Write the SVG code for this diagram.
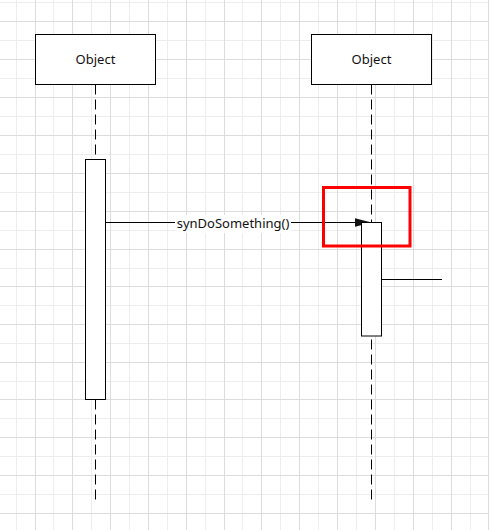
<svg xmlns="http://www.w3.org/2000/svg" width="489" height="530" viewBox="0 0 489 530">
<defs>
<style>
.minor{stroke:#ededed;stroke-width:1;fill:none}
.major{stroke:#dcdcdc;stroke-width:1;fill:none}
.box{fill:#fff;stroke:#000;stroke-width:1}
.life{stroke:#000;stroke-width:1;stroke-dasharray:10 5;fill:none}
.line{stroke:#000;stroke-width:1;fill:none}
.lbl{font-family:"Noto Sans","DejaVu Sans",sans-serif;font-size:13px;fill:#111;text-anchor:middle}
</style>
<marker id="arrow" markerWidth="17" markerHeight="12" refX="17" refY="6" orient="auto" markerUnits="userSpaceOnUse">
<path d="M0,1.5 L17,6 L0,10.5 Z" fill="#111"/>
</marker>
</defs>
<rect width="489" height="530" fill="#fff"/>
<g id="grid">
<path class="minor" d="M16.5,0V530M53.5,0V530M91.5,0V530M129.5,0V530M167.5,0V530M205.5,0V530M242.5,0V530M280.5,0V530M318.5,0V530M356.5,0V530M394.5,0V530M432.5,0V530M470.5,0V530M0,2.5H489M0,40.5H489M0,78.5H489M0,116.5H489M0,154.5H489M0,192.5H489M0,230.5H489M0,268.5H489M0,305.5H489M0,343.5H489M0,381.5H489M0,418.5H489M0,456.5H489M0,494.5H489"/>
<path class="major" d="M35.5,0V530M72.5,0V530M110.5,0V530M148.5,0V530M186.5,0V530M224.5,0V530M261.5,0V530M299.5,0V530M337.5,0V530M375.5,0V530M413.5,0V530M451.5,0V530M488.5,0V530M0,21.5H489M0,59.5H489M0,97.5H489M0,135.5H489M0,173.5H489M0,211.5H489M0,249.5H489M0,286.5H489M0,324.5H489M0,362.5H489M0,399.5H489M0,437.5H489M0,475.5H489M0,513.5H489"/>
</g>
<g id="connectors">
<path class="life" d="M95.5,84.5V502"/>
<path class="life" d="M371.5,84.5V502"/>
<path class="line" d="M105.5,222.5H371.5" marker-end="url(#arrow)"/>
<path class="line" d="M381.5,279.5H442"/>
</g>
<g id="object1">
<rect class="box" x="35.5" y="34.5" width="120" height="50"/>
<text class="lbl" x="95.5" y="64">Object</text>
</g>
<g id="object2">
<rect class="box" x="311.5" y="34.5" width="120" height="50"/>
<text class="lbl" x="371.5" y="64">Object</text>
</g>
<g id="activation1">
<rect class="box" x="85.5" y="159.5" width="20" height="240"/>
</g>
<g id="activation2">
<rect class="box" x="361.5" y="222.5" width="20" height="113.5"/>
</g>
<g id="message-label">
<rect x="175" y="215" width="116" height="18" fill="#fff"/>
<text class="lbl" x="233" y="228">synDoSomething()</text>
</g>
<g id="highlight">
<rect x="323.5" y="187.5" width="86.5" height="58.5" fill="none" stroke="#ff0000" stroke-width="3"/>
</g>
</svg>
